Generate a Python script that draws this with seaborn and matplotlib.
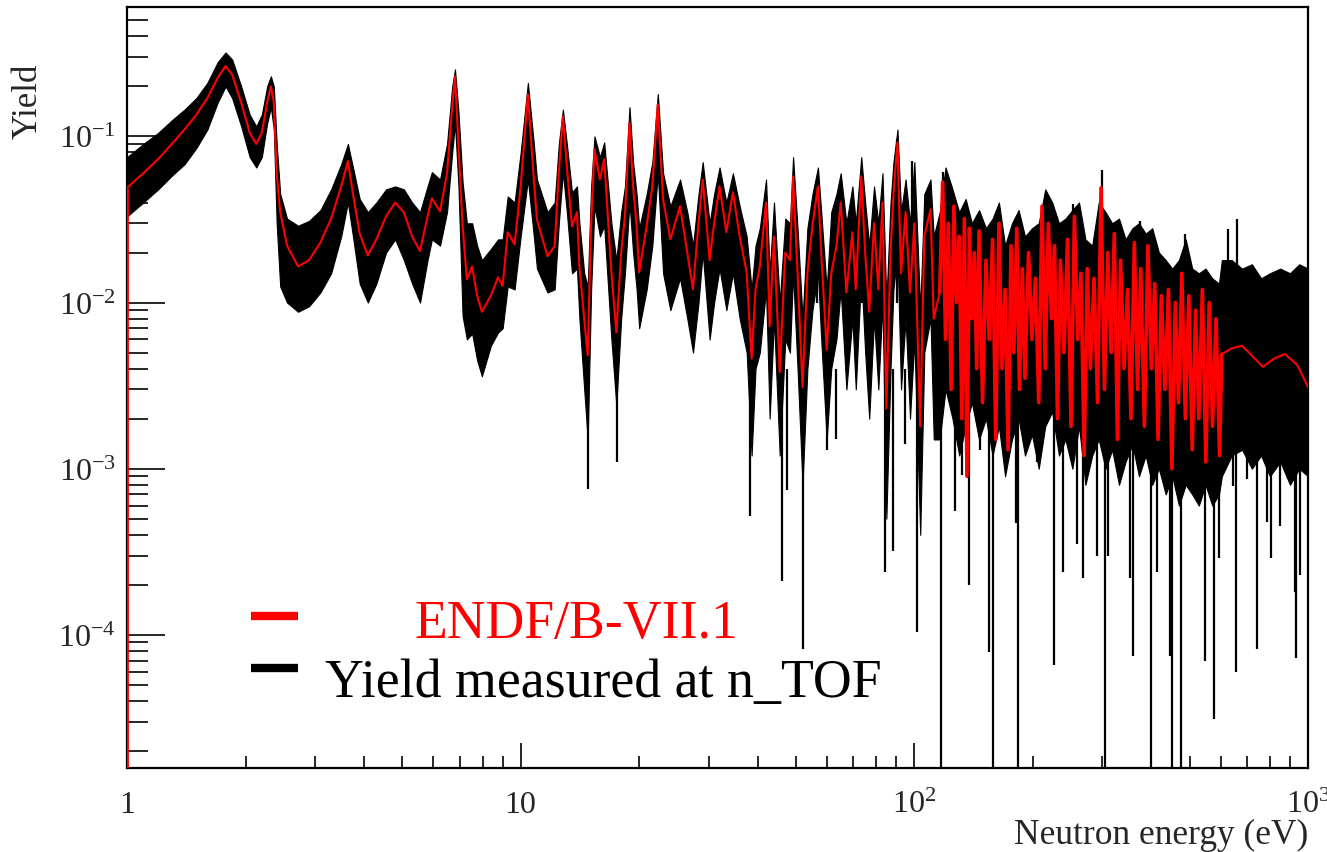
import numpy as np
import pandas as pd
import seaborn as sns
import matplotlib.pyplot as plt
from matplotlib.lines import Line2D
from matplotlib.ticker import LogLocator, NullFormatter

# ENDF/B-VII.1 evaluated yield (red curve), energy in eV
endf_e = [1.00, 1.10, 1.20, 1.30, 1.40, 1.50, 1.60, 1.70, 1.78, 1.85,
          1.95, 2.05, 2.13, 2.20, 2.27, 2.32, 2.36, 2.40, 2.45, 2.55,
          2.72, 2.90, 3.10, 3.30, 3.50, 3.64, 3.75, 3.90, 4.09, 4.30,
          4.55, 4.80, 5.05, 5.30, 5.55, 5.80, 5.95, 6.24, 6.50, 6.70,
          6.81, 6.95, 7.12, 7.30, 7.53, 7.75, 7.97, 8.40, 8.76, 9.00,
          9.27, 9.65, 10.0, 10.43, 10.8, 11.0, 11.7, 12.2, 12.5, 12.8,
          13.1, 13.5, 13.9, 14.1, 14.5, 14.8, 15.1, 15.4, 15.9, 16.3,
          17.0, 17.5, 18.0, 18.4, 18.9, 19.3, 19.7, 20.0, 20.9, 21.6,
          22.3, 23.0, 24.0, 25.4, 26.5, 27.4, 28.3, 29.0, 30.2, 31.0,
          32.0, 33.3, 34.6, 36.0, 37.5, 38.6, 39.5, 40.5, 42.0, 42.9,
          44.0, 45.5, 47.0, 48.3, 49.2, 50.5, 52.0, 53.5, 55.1, 56.9,
          58.0, 59.9, 61.5, 63.4, 65.0, 67.2, 69.6, 71.0, 73.3, 75.0,
          76.8, 79.0, 81.0, 83.0, 84.9, 87.0, 88.5, 90.6, 92.5, 95.0,
          97.5, 100.0, 103.5, 106.0, 109.9, 112.0, 116.0,
          118, 120, 122, 124, 126, 128, 130, 132, 134, 136,
          138, 140, 142, 144, 146, 149, 152, 155, 158, 161,
          164, 167, 170, 173, 176, 179, 182, 185, 188, 191,
          195, 199, 203, 207, 211, 215, 219, 223, 227, 231,
          235, 240, 245, 250, 255, 260, 265, 270, 275, 280,
          286, 292, 298, 304, 310, 316, 322, 328, 334, 341,
          348, 355, 362, 369, 376, 384, 392, 400, 408, 416,
          424, 433, 442, 451, 460, 469, 478, 488, 498, 508,
          518, 528, 539, 550, 561, 572, 584, 596, 604,
          640, 679, 720, 768, 820, 874, 940, 1000]
endf_y = [0.049, 0.060, 0.073, 0.090, 0.110, 0.135, 0.170, 0.225, 0.265, 0.235,
          0.160, 0.105, 0.090, 0.105, 0.160, 0.200, 0.160, 0.060, 0.035, 0.022,
          0.0165, 0.0180, 0.0230, 0.0320, 0.0500, 0.0710, 0.0450, 0.0260, 0.0192, 0.0240,
          0.0330, 0.0400, 0.0350, 0.0250, 0.0204, 0.0330, 0.0424, 0.0354, 0.0600, 0.1500,
          0.2300, 0.0900, 0.0290, 0.0138, 0.0165, 0.0110, 0.0088, 0.0110, 0.0142, 0.0126,
          0.0265, 0.0224, 0.0500, 0.179, 0.055, 0.0316, 0.0190, 0.0218, 0.060, 0.132,
          0.066, 0.0288, 0.0350, 0.0165, 0.0080, 0.0048, 0.030, 0.0836, 0.0550, 0.0727,
          0.0152, 0.0066, 0.0200, 0.0330, 0.1210, 0.0500, 0.0290, 0.0152, 0.0290, 0.0500,
          0.1560, 0.0418, 0.0240, 0.0380, 0.0200, 0.0120, 0.0300, 0.0550, 0.0180, 0.0300,
          0.0500, 0.0265, 0.0460, 0.0250, 0.0152, 0.0046, 0.0120, 0.0165, 0.0400, 0.0072,
          0.0250, 0.0038, 0.0200, 0.0180, 0.0575, 0.0150, 0.0031, 0.0150, 0.0290, 0.0500,
          0.0200, 0.0052, 0.0150, 0.0218, 0.0400, 0.0115, 0.0265, 0.0120, 0.0575, 0.0200,
          0.0088, 0.0300, 0.0120, 0.0400, 0.0023, 0.0200, 0.0450, 0.0920, 0.0150, 0.0350,
          0.0115, 0.0300, 0.0018, 0.0250, 0.0364, 0.0080, 0.0115,
          0.053, 0.006, 0.030, 0.003, 0.038, 0.010, 0.025, 0.002, 0.032, 0.0009,
          0.028, 0.008, 0.020, 0.004, 0.027, 0.0025, 0.018, 0.006, 0.024, 0.0015,
          0.030, 0.004, 0.012, 0.0013, 0.022, 0.005, 0.028, 0.003, 0.016, 0.0035,
          0.020, 0.006, 0.014, 0.0025, 0.038, 0.004, 0.030, 0.008, 0.022, 0.002,
          0.018, 0.005, 0.024, 0.0018, 0.033, 0.006, 0.015, 0.0012, 0.016, 0.004,
          0.014, 0.0025, 0.049, 0.003, 0.020, 0.005, 0.026, 0.0015, 0.018, 0.004,
          0.012, 0.002, 0.023, 0.003, 0.016, 0.0018, 0.022, 0.004, 0.013, 0.0015,
          0.011, 0.003, 0.012, 0.001, 0.010, 0.0025, 0.015, 0.002, 0.011, 0.0013,
          0.009, 0.002, 0.012, 0.0011, 0.010, 0.0018, 0.008, 0.0012, 0.0049,
          0.0053, 0.0055, 0.0048, 0.0041, 0.0046, 0.0049, 0.0042, 0.0031]

# n_TOF measured yield: lower / upper edge of the error band (black)
meas_e = [1.00, 1.10, 1.20, 1.30, 1.40, 1.50, 1.60, 1.70, 1.78, 1.85,
          1.95, 2.05, 2.13, 2.20, 2.27, 2.32, 2.36, 2.40, 2.45, 2.55,
          2.72, 2.90, 3.10, 3.30, 3.50, 3.64, 3.75, 3.90, 4.09, 4.30,
          4.55, 4.80, 5.05, 5.30, 5.55, 5.80, 5.95, 6.24, 6.50, 6.70,
          6.81, 6.95, 7.12, 7.30, 7.53, 7.75, 7.97, 8.40, 8.76, 9.00,
          9.27, 9.65, 10.0, 10.43, 10.8, 11.0, 11.7, 12.2, 12.5, 12.8,
          13.1, 13.5, 13.9, 14.1, 14.5, 14.8, 15.1, 15.4, 15.9, 16.3,
          17.0, 17.5, 18.0, 18.4, 18.9, 19.3, 19.7, 20.0, 20.9, 21.6,
          22.3, 23.0, 24.0, 25.4, 26.5, 27.4, 28.3, 29.0, 30.2, 31.0,
          32.0, 33.3, 34.6, 36.0, 37.5, 38.6, 39.5, 40.5, 42.0, 42.9,
          44.0, 45.5, 47.0, 48.3, 49.2, 50.5, 52.0, 53.5, 55.1, 56.9,
          58.0, 59.9, 61.5, 63.4, 65.0, 67.2, 69.6, 71.0, 73.3, 75.0,
          76.8, 79.0, 81.0, 83.0, 84.9, 87.0, 88.5, 90.6, 92.5, 95.0,
          97.5, 100.0, 103.5, 106.0, 109.9, 112.0,
          116, 120, 125, 130, 135, 140, 146, 152, 158, 164,
          170, 177, 184, 191, 199, 207, 215, 224, 233, 242,
          252, 262, 272, 283, 294, 306, 318, 331, 344, 358,
          372, 387, 402, 418, 435, 452, 470, 489, 508, 528,
          549, 571, 594, 604,
          640, 680, 720, 760, 800, 850, 900, 950, 1000]
meas_lo = [0.033, 0.040, 0.048, 0.058, 0.068, 0.085, 0.110, 0.160, 0.200, 0.170,
           0.115, 0.075, 0.065, 0.075, 0.120, 0.150, 0.110, 0.030, 0.0125, 0.010,
           0.0088, 0.0095, 0.0115, 0.015, 0.025, 0.040, 0.025, 0.013, 0.010, 0.013,
           0.020, 0.024, 0.018, 0.013, 0.010, 0.018, 0.024, 0.022, 0.035, 0.080,
           0.120, 0.050, 0.0083, 0.006, 0.0065, 0.0045, 0.0036, 0.0055, 0.0066, 0.0070,
           0.0125, 0.012, 0.025, 0.055, 0.025, 0.016, 0.0115, 0.012, 0.030, 0.061,
           0.035, 0.015, 0.016, 0.008, 0.003, 0.0015, 0.012, 0.038, 0.025, 0.029,
           0.006, 0.0024, 0.008, 0.015, 0.040, 0.020, 0.012, 0.007, 0.012, 0.022,
           0.060, 0.015, 0.009, 0.014, 0.008, 0.005, 0.010, 0.020, 0.006, 0.010,
           0.016, 0.009, 0.015, 0.008, 0.005, 0.0012, 0.004, 0.005, 0.012, 0.002,
           0.008, 0.0012, 0.006, 0.005, 0.015, 0.004, 0.0008, 0.004, 0.009, 0.015,
           0.006, 0.0015, 0.004, 0.006, 0.012, 0.003, 0.008, 0.003, 0.015, 0.005,
           0.002, 0.008, 0.003, 0.010, 0.0005, 0.004, 0.012, 0.020, 0.003, 0.008,
           0.002, 0.006, 0.0004, 0.005, 0.008, 0.0015,
           0.0015, 0.003, 0.002, 0.0012, 0.0018, 0.0025, 0.0015, 0.002, 0.0012, 0.0018,
           0.0009, 0.0015, 0.002, 0.0012, 0.0016, 0.001, 0.0018, 0.0022, 0.0012, 0.0015,
           0.001, 0.0018, 0.0008, 0.0012, 0.0015, 0.001, 0.0013, 0.0008, 0.0011, 0.0014,
           0.0009, 0.0012, 0.0008, 0.001, 0.0007, 0.0009, 0.0006, 0.0008, 0.0007, 0.0006,
           0.0008, 0.0006, 0.0007, 0.0009,
           0.0012, 0.0013, 0.0010, 0.0012, 0.0009, 0.0011, 0.0008, 0.0010, 0.0009]
meas_hi = [0.075, 0.090, 0.105, 0.125, 0.145, 0.170, 0.210, 0.280, 0.320, 0.290,
           0.200, 0.135, 0.115, 0.135, 0.200, 0.230, 0.200, 0.090, 0.045, 0.032,
           0.029, 0.031, 0.036, 0.048, 0.068, 0.090, 0.065, 0.042, 0.035, 0.040,
           0.048, 0.050, 0.048, 0.040, 0.035, 0.050, 0.061, 0.055, 0.090, 0.200,
           0.253, 0.140, 0.053, 0.030, 0.030, 0.022, 0.018, 0.021, 0.024, 0.024,
           0.0435, 0.040, 0.080, 0.210, 0.090, 0.055, 0.035, 0.040, 0.090, 0.145,
           0.090, 0.046, 0.050, 0.030, 0.015, 0.0125, 0.050, 0.100, 0.075, 0.092,
           0.030, 0.018, 0.035, 0.050, 0.150, 0.070, 0.045, 0.028, 0.045, 0.070,
           0.180, 0.060, 0.038, 0.055, 0.035, 0.022, 0.045, 0.070, 0.030, 0.045,
           0.065, 0.040, 0.060, 0.038, 0.025, 0.012, 0.022, 0.028, 0.055, 0.015,
           0.040, 0.010, 0.032, 0.030, 0.075, 0.028, 0.008, 0.028, 0.045, 0.065,
           0.035, 0.012, 0.035, 0.045, 0.060, 0.030, 0.050, 0.030, 0.075, 0.040,
           0.022, 0.050, 0.030, 0.060, 0.010, 0.040, 0.070, 0.110, 0.035, 0.055,
           0.030, 0.070, 0.009, 0.045, 0.055, 0.025,
           0.035, 0.065, 0.048, 0.035, 0.042, 0.030, 0.036, 0.028, 0.032, 0.040,
           0.022, 0.030, 0.036, 0.025, 0.028, 0.030, 0.048, 0.040, 0.030, 0.032,
           0.036, 0.040, 0.024, 0.022, 0.040, 0.035, 0.030, 0.032, 0.024, 0.028,
           0.030, 0.026, 0.028, 0.020, 0.018, 0.016, 0.018, 0.024, 0.016, 0.015,
           0.016, 0.014, 0.013, 0.018,
           0.018, 0.016, 0.017, 0.014, 0.015, 0.016, 0.015, 0.017, 0.016]

# long downward error bars (lower end of the bar)
dip_e = [14.8, 17.6, 38.2, 46.1, 47.6, 52.0, 60.0, 63.4, 84.2, 88.2,
         94.8, 101.8, 117, 127, 132, 138, 147, 155, 158, 181,
         183, 205, 226, 238, 259, 268, 291, 305, 311, 353,
         359, 400, 414, 445, 450, 475, 549, 577, 595, 643,
         655, 700, 740, 786, 806, 848, 890, 925, 930, 956]
dip_y = [0.00075, 0.0011, 0.00052, 0.00021, 0.00074, 8.2e-5, 0.0013, 0.0015, 0.00024, 0.00032,
         0.0014, 0.000104, 1e-6, 0.00056, 0.00091, 0.0002, 0.0013, 7.9e-5, 1e-6, 0.00047,
         1e-6, 0.0011, 6.6e-5, 0.00024, 0.00035, 0.00022, 0.0003, 1e-6, 0.0003, 0.00022,
         7.5e-5, 1e-6, 0.00024, 7.5e-5, 1e-6, 1e-6, 7e-5, 3.1e-5, 0.00029, 0.00079,
         6e-5, 0.00087, 8.2e-5, 0.00048, 0.00029, 0.00045, 0.00087, 0.00018, 7.3e-5, 0.00023]

# tall upward error bars (upper end of the bar)
tip_e = [56.5, 73.7, 90.6, 98.5, 118.5, 124, 218, 253, 300, 375, 488, 625, 662]
tip_y = [0.051, 0.059, 0.096, 0.071, 0.061, 0.051, 0.0435, 0.039, 0.063, 0.031, 0.0257, 0.0276, 0.0317]

sns.set_style("ticks")
plt.rcParams['font.family'] = ['Liberation Serif', 'DejaVu Serif']
plt.rcParams['mathtext.fontset'] = 'custom'
plt.rcParams['mathtext.rm'] = 'Liberation Serif'

fig = plt.figure(figsize=(13.27, 8.53), dpi=100)
ax = fig.add_axes([0.0957, 0.0985, 0.890, 0.892])
ax.set_xscale('log')
ax.set_yscale('log')

ax.fill_between(meas_e, meas_lo, meas_hi, color='black', lw=0.8, zorder=2)
ax.vlines(dip_e, dip_y, 0.004, color='black', lw=1.6, zorder=2)
ax.vlines(tip_e, 0.01, tip_y, color='black', lw=1.6, zorder=2)

df = pd.DataFrame({'E': endf_e, 'Y': endf_y})
low = df[df['E'] <= 116]
dense = df[(df['E'] >= 116) & (df['E'] <= 604)]
high = df[df['E'] >= 604]
sns.lineplot(data=low, x='E', y='Y', color='red', lw=1.5, estimator=None,
             sort=False, ax=ax, zorder=3)
sns.lineplot(data=dense, x='E', y='Y', color='red', lw=2.6, estimator=None,
             sort=False, ax=ax, zorder=3)
sns.lineplot(data=high, x='E', y='Y', color='red', lw=1.5, estimator=None,
             sort=False, ax=ax, zorder=3)
ax.vlines(endf_e[0], 1e-6, endf_y[0], color='red', lw=2, zorder=4)

ax.set_xlim(1, 1000)
ax.set_ylim(1.58e-5, 0.6)

ax.set_xticks([1, 10, 100, 1000],
              labels=['1', '10', r'$\mathregular{10^{2}}$', r'$\mathregular{10^{3}}$'])
ax.set_yticks([1e-4, 1e-3, 1e-2, 1e-1],
              labels=[r'$\mathregular{10^{-4}}$', r'$\mathregular{10^{-3}}$',
                      r'$\mathregular{10^{-2}}$', r'$\mathregular{10^{-1}}$'])
ax.xaxis.set_minor_locator(LogLocator(base=10, subs=[2, 3, 4, 5, 6, 7, 8, 9], numticks=20))
ax.yaxis.set_minor_locator(LogLocator(base=10, subs=[2, 3, 4, 5, 6, 7, 8, 9], numticks=20))
ax.xaxis.set_minor_formatter(NullFormatter())
ax.yaxis.set_minor_formatter(NullFormatter())
ax.tick_params(axis='x', which='major', direction='in', length=18, width=1.4, pad=16, labelsize=23)
ax.tick_params(axis='x', which='minor', direction='in', length=8.6, width=1.4)
ax.tick_params(axis='y', which='major', direction='in', length=27, width=1.4, pad=8, labelsize=23)
ax.tick_params(axis='y', which='minor', direction='in', length=15, width=1.4)
for s in ax.spines.values():
    s.set_linewidth(1.6)
    s.set_color('black')

ax.set_ylabel('Yield', fontsize=25)
ax.yaxis.set_label_coords(-0.070, 0.878)
ax.set_xlabel('Neutron energy (eV)', fontsize=25.5, loc='right')
ax.xaxis.set_label_coords(1.0, -0.066)

# legend drawn by hand (ROOT style)
fig.add_artist(Line2D([0.1891, 0.2246], [0.2767, 0.2767], transform=fig.transFigure,
                      color='red', lw=6, solid_capstyle='butt'))
fig.add_artist(Line2D([0.1891, 0.2246], [0.2157, 0.2157], transform=fig.transFigure,
                      color='black', lw=6, solid_capstyle='butt'))
fig.text(0.3127, 0.252, 'ENDF/B-VII.1', color='red', fontsize=38.7, va='baseline')
fig.text(0.2449, 0.1829, 'Yield measured at n_TOF', color='black', fontsize=38.7, va='baseline')

fig.savefig('out.png', dpi=100)
